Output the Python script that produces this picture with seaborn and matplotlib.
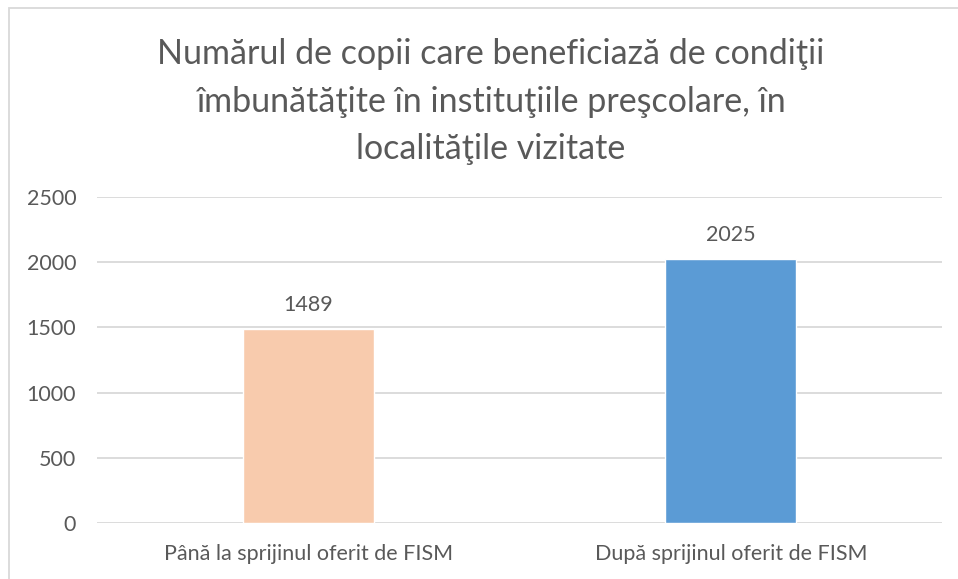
import matplotlib
matplotlib.use('Agg')
import matplotlib.pyplot as plt
import seaborn as sns
import pandas as pd
from matplotlib.patches import Rectangle

# --- data ---
categories = ['Până la sprijinul oferit de FISM', 'După sprijinul oferit de FISM']
values = [1489, 2025]
bar_colors = ['#F8CBAD', '#5B9BD5']
title = 'Numărul de copii care beneficiază de condiţii\nîmbunătăţite în instituţiile preşcolare, în\nlocalităţile vizitate'

df = pd.DataFrame({'cat': categories, 'val': values})

sns.set_style('white')
plt.rcParams['font.family'] = ['Lato', 'DejaVu Sans']
text_col = '#595959'

fig = plt.figure(figsize=(9.58, 5.79), dpi=100)
ax = fig.add_axes([0.1013, 0.0967, 0.882, 0.5631])

sns.barplot(data=df, x='cat', y='val', hue='cat', palette=bar_colors, width=0.31,
            legend=False, ax=ax, saturation=1)

ax.set_ylim(0, 2500)
ax.set_yticks(range(0, 2501, 500))
ax.yaxis.grid(True, color='#D9D9D9', linewidth=1.3)
ax.set_axisbelow(True)
for s in ax.spines.values():
    s.set_visible(False)
ax.set_xlabel('')
ax.set_ylabel('')
ax.tick_params(axis='both', length=0, labelsize=15.5, colors=text_col)
ax.tick_params(axis='x', pad=15)
ax.tick_params(axis='y', pad=15)

for c in ax.containers:
    ax.bar_label(c, fmt='%d', padding=10, fontsize=15.5, color=text_col)

fig.text(0.512, 0.934, title, ha='center', va='top', fontsize=24.5, color=text_col,
         linespacing=1.6)

fig.patches.append(Rectangle((0.009, -0.01), 0.995, 0.996, transform=fig.transFigure,
                             fill=False, edgecolor='#D9D9D9', linewidth=1.3))

fig.savefig('out.png', dpi=100)
